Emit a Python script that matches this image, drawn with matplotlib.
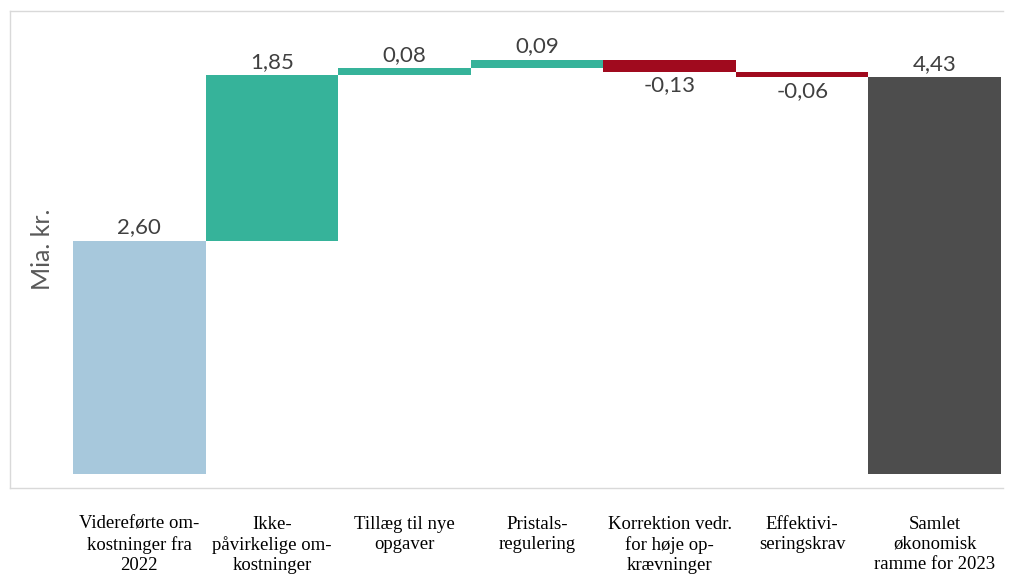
import matplotlib.pyplot as plt
import numpy as np

categories = [
    "Videreførte om-\nkostninger fra\n2022",
    "Ikke-\npåvirkelige om-\nkostninger",
    "Tillæg til nye\nopgaver",
    "Pristals-\nregulering",
    "Korrektion vedr.\nfor høje op-\nkrævninger",
    "Effektivi-\nseringskrav",
    "Samlet\nøkonomisk\nramme for 2023",
]
values = [2.60, 1.85, 0.08, 0.09, -0.13, -0.06, 4.43]
value_labels = ["2,60", "1,85", "0,08", "0,09", "-0,13", "-0,06", "4,43"]

start_color = "#A7C8DC"
up_color = "#36B39A"
down_color = "#A00A1E"
total_color = "#4D4D4D"

vals = np.array(values)
x = np.arange(len(vals))

# first and last bars stand on zero, the steps in between float on the running sum
ends = np.cumsum(vals[:-1])
starts = np.concatenate([[0.0], ends[:-1]])
bottoms = np.zeros(len(vals))
bottoms[1:-1] = np.minimum(starts[1:], ends[1:])
heights = np.abs(vals)

colors = [start_color] + [up_color if v >= 0 else down_color for v in vals[1:-1]] + [total_color]

fig = plt.figure(figsize=(10.14, 5.74), dpi=100)
ax = fig.add_axes([0.0099, 0.150, 0.9793, 0.831])

ax.bar(x, heights, bottom=bottoms, width=1.0, color=colors, edgecolor="none")

for xi, b, h, v, lab in zip(x, bottoms, heights, vals, value_labels):
    if v >= 0:
        ax.text(xi, b + h + 0.04, lab, ha="center", va="bottom",
                fontsize=16, color="#404040", family="Lato")
    else:
        ax.text(xi, b - 0.04, lab, ha="center", va="top",
                fontsize=16, color="#404040", family="Lato")

ax.set_xlim(-0.975, 6.515)
ax.set_ylim(-0.156, 5.17)
ax.set_yticks([])
ax.set_xticks(x)
ax.set_xticklabels(categories, family="Liberation Serif", fontsize=13.5,
                   linespacing=1.25)
ax.tick_params(axis="x", length=0, pad=20)

for side in ax.spines.values():
    side.set_color("#D9D9D9")
    side.set_linewidth(1.0)
ax.spines["right"].set_visible(False)

fig.text(0.042, 0.565, "Mia. kr.", rotation=90, ha="center", va="center",
         fontsize=18, color="#595959", family="Lato")

fig.savefig("out.png", dpi=100)
plt.close(fig)
